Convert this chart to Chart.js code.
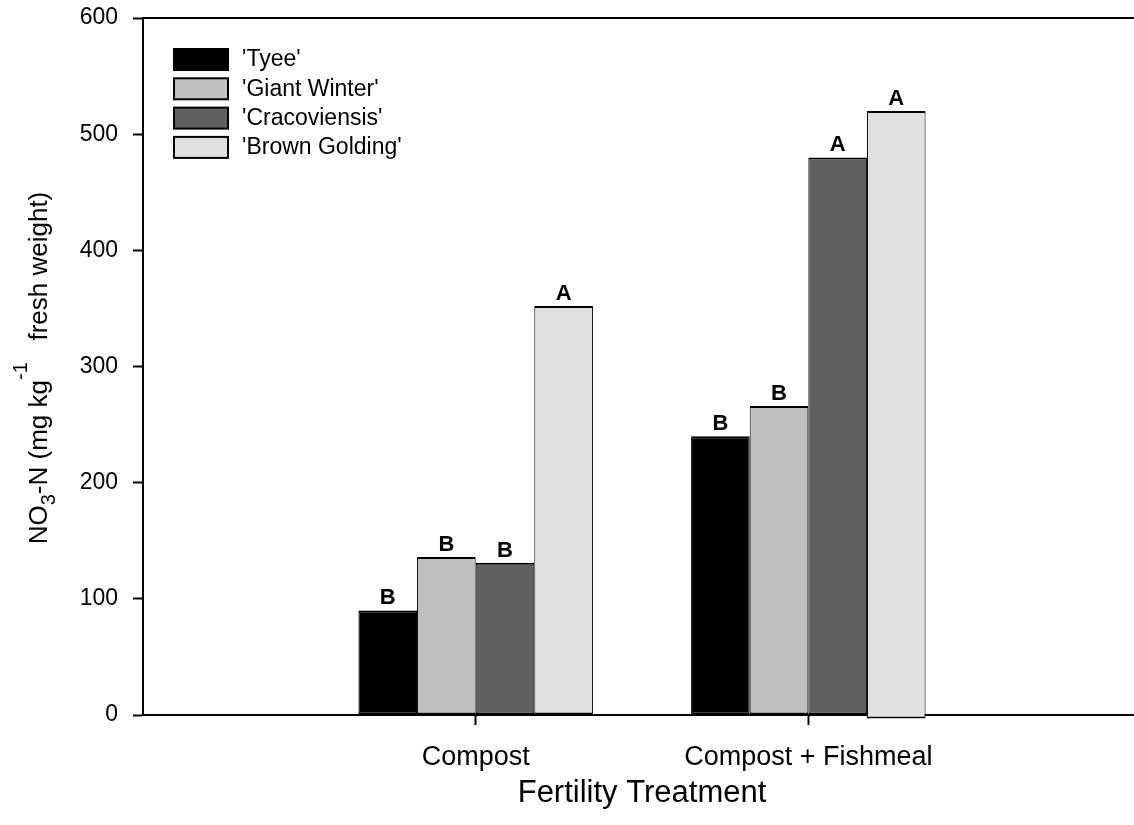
<!DOCTYPE html>
<html>
<head>
<meta charset="utf-8">
<script src="https://cdn.jsdelivr.net/npm/chart.js@4"></script>
<style>
html, body { margin: 0; padding: 0; background: #fff; overflow: hidden; }
#wrap { position: absolute; left: 0; top: 0; width: 1141px; height: 825px; }
</style>
</head>
<body>
<div id="wrap"><canvas id="myChart"></canvas></div>
<script>
// empty slots at both ends give the wide margins of the original axis
const categories = ['', 'Compost', 'Compost + Fishmeal', '']
const seriesNames = ["'Tyee'", "'Giant Winter'", "'Cracoviensis'", "'Brown Golding'"]
const tyee = [null, 90, 240, null]
const giantWinter = [null, 136, 266, null]
const cracoviensis = [null, 131, 480, null]
const brownGolding = [null, [0, 352], [-3, 520], null] // last bar dips slightly under zero
const letterTyee = [null, 'B', 'B', null]
const letterGiant = [null, 'B', 'B', null]
const letterCraco = [null, 'B', 'A', null]
const letterBrown = [null, 'A', 'A', null]
const yTicks = [0, 100, 200, 300, 400, 500, 600]

const fills = ['#000000', '#c0c0c0', '#606060', '#e0e0e0']
const letters = [letterTyee, letterGiant, letterCraco, letterBrown]
const FONT = "'Liberation Sans', Arial, Helvetica, sans-serif"

Chart.defaults.font.family = FONT
Chart.defaults.color = '#000'

const series = [tyee, giantWinter, cracoviensis, brownGolding]

const chartData = {
	labels: categories,
	datasets: series.map((data, i) => ({
		label: seriesNames[i],
		data,
		backgroundColor: fills[i],
		borderColor: '#000',
		borderWidth: { top: 2, left: 1, right: 1, bottom: 2 },
		borderSkipped: false,
		barPercentage: 1,
		categoryPercentage: 0.705,
		clip: false
	}))
}

// letters above the bars
const letterPlugin = {
	id: 'letters',
	afterDatasetsDraw(chart) {
		const ctx = chart.ctx
		ctx.save()
		ctx.fillStyle = '#000'
		ctx.font = 'bold 22px ' + FONT
		ctx.textAlign = 'center'
		ctx.textBaseline = 'alphabetic'
		chart.data.datasets.forEach((ds, i) => {
			const meta = chart.getDatasetMeta(i)
			meta.data.forEach((el, j) => {
				const txt = letters[i][j]
				if (!txt) return
				ctx.fillText(txt, el.x, el.y - 6)
			})
		})
		ctx.restore()
	}
}

// frame line on top, legend inside the plot and the y title with sub/superscript
const decorPlugin = {
	id: 'decor',
	afterDraw(chart) {
		const ctx = chart.ctx
		const area = chart.chartArea
		ctx.save()

		ctx.strokeStyle = '#000'
		ctx.lineWidth = 2
		ctx.beginPath()
		ctx.moveTo(area.left, area.top)
		ctx.lineTo(area.right, area.top)
		ctx.stroke()

		// legend
		ctx.font = '23px ' + FONT
		ctx.textBaseline = 'middle'
		ctx.textAlign = 'left'
		chart.data.datasets.forEach((ds, i) => {
			const y = 49 + i * 29.3
			ctx.fillStyle = ds.backgroundColor
			ctx.fillRect(174, y, 54, 21)
			ctx.lineWidth = 2
			ctx.strokeStyle = '#000'
			ctx.strokeRect(174, y, 54, 21)
			ctx.fillStyle = '#000'
			ctx.fillText(ds.label, 242, y + 11)
		})

		// y axis title
		const parts = [
			{ t: 'NO', size: 26, dy: 0 },
			{ t: '3', size: 20, dy: 8 },
			{ t: '-N (mg kg', size: 26, dy: 0 },
			{ t: '-1', size: 20, dy: -20 },
			{ t: '   fresh weight)', size: 26, dy: 0 }
		]
		let total = 0
		parts.forEach(p => {
			ctx.font = p.size + 'px ' + FONT
			p.w = ctx.measureText(p.t).width
			total += p.w
		})
		ctx.translate(47, 368)
		ctx.rotate(-Math.PI / 2)
		ctx.textBaseline = 'alphabetic'
		ctx.fillStyle = '#000'
		let x = -total / 2
		parts.forEach(p => {
			ctx.font = p.size + 'px ' + FONT
			ctx.fillText(p.t, x, p.dy)
			x += p.w
		})

		ctx.restore()
	}
}

const chartConfig = {
	type: 'bar',
	data: chartData,
	plugins: [letterPlugin, decorPlugin],
	options: {
		responsive: true,
		maintainAspectRatio: false,
		animation: false,
		layout: { padding: { top: 18, left: 0, right: 0, bottom: 0 } },
		plugins: {
			legend: { display: false },
			tooltip: { enabled: false }
		},
		scales: {
			x: {
				type: 'category',
				offset: false,
				grid: {
					display: true,
					drawOnChartArea: false,
					offset: false,
					tickLength: 10,
					tickWidth: 2,
					tickColor: c => (c.index === 1 || c.index === 2) ? '#000' : 'rgba(0,0,0,0)'
				},
				border: { display: true, color: '#000', width: 2 },
				ticks: {
					autoSkip: false,
					maxRotation: 0,
					padding: 16,
					color: '#000',
					font: { size: 27 }
				},
				title: {
					display: true,
					text: 'Fertility Treatment',
					color: '#000',
					font: { size: 31 },
					padding: { top: 0, bottom: 13 }
				},
				afterFit: s => {
					s.height = 110
					s.paddingLeft = 0
					s.paddingRight = 0
				}
			},
			y: {
				min: 0,
				max: 600,
				afterBuildTicks: s => { s.ticks = yTicks.map(v => ({ value: v })) },
				grid: {
					drawOnChartArea: false,
					tickLength: 10,
					tickWidth: 2,
					tickColor: '#000'
				},
				border: { display: true, color: '#000', width: 2 },
				ticks: {
					padding: 15,
					color: '#000',
					font: { size: 23 }
				},
				afterFit: s => {
					s.width = 143
					s.paddingTop = 0
					s.paddingBottom = 0
				}
			}
		}
	}
}

new Chart(document.getElementById('myChart'), chartConfig)
</script>
</body>
</html>
